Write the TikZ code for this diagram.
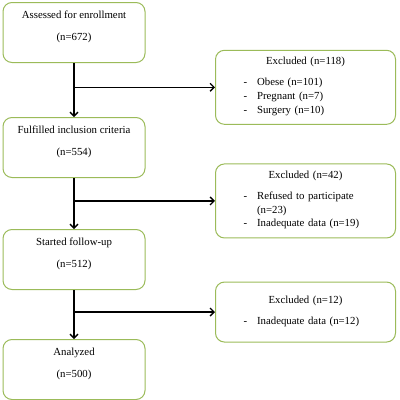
\documentclass[tikz,border=0pt]{standalone}
\usepackage{fontspec}
\setmainfont{Liberation Serif}
\usepackage{xcolor}
\usepackage{tikz}
\usetikzlibrary{arrows.meta, positioning, calc}
\definecolor{boxgreen}{RGB}{155,187,89}

\begin{document}
\begin{tikzpicture}[
    >={Straight Barb[length=4pt,width=8pt]},
    box_node/.style={
        rectangle,
        draw=boxgreen,
        line width=1pt,
        rounded corners=9pt,
        minimum width=142pt,
        minimum height=60pt,
        align=center,
        font=\fontsize{10.8pt}{13.8pt}\selectfont
    },
    excl_node/.style={
        rectangle,
        draw=boxgreen,
        line width=1pt,
        rounded corners=9pt,
        text width=170pt,
        inner xsep=5pt,
        inner ysep=7pt,
        minimum height=60pt,
        align=center,
        font=\fontsize{10.8pt}{13.8pt}\selectfont
    },
    arrow_main/.style={
        ->,
        line width=1.3pt,
        color=black
    }
]
    \useasboundingbox (0,0) rectangle (400pt,-400pt);

    % Main Flow Nodes
    \node (assess) [box_node] at (74pt,-32.5pt) {Assessed for enrollment\\[8pt](n=672)\\\mbox{}};
    \node (fulfil) [box_node, below=54pt of assess] {Fulfilled inclusion criteria\\[8pt](n=554)\\\mbox{}};
    \node (started) [box_node, below=51pt of fulfil] {Started follow-up\\[8pt](n=512)\\\mbox{}};
    \node (analyzed) [box_node, below=49pt of started] {Analyzed\\[8pt](n=500)\\\mbox{}};

    % Branch Points
    \coordinate (br1) at ($(assess.south)!0.45!(fulfil.north)$);
    \coordinate (br2) at ($(fulfil.south)!0.45!(started.north)$);
    \coordinate (br3) at ($(started.south)!0.45!(analyzed.north)$);

    % Exclusion Nodes
    \node (excl1) [excl_node, right=141pt of br1] {Excluded (n=118)\\[7pt]
        \hspace*{23pt}\begin{tabular}[t]{@{}l@{\hspace{10pt}}l@{}}
        - & Obese (n=101)\\
        - & Pregnant (n=7)\\
        - & Surgery (n=10)
        \end{tabular}\hfill\mbox{}};
    \node (excl2) [excl_node, right=141pt of br2] {Excluded (n=42)\\[7pt]
        \hspace*{23pt}\begin{tabular}[t]{@{}l@{\hspace{10pt}}l@{}}
        - & Refused to participate\\
          & (n=23)\\
        - & Inadequate data (n=19)
        \end{tabular}\hfill\mbox{}};
    \node (excl3) [excl_node, right=141pt of br3] {Excluded (n=12)\\[7pt]
        \hspace*{23pt}\begin{tabular}[t]{@{}l@{\hspace{10pt}}l@{}}
        - & Inadequate data (n=12)
        \end{tabular}\hfill\mbox{}};

    % Main Flow Connections
    \draw [arrow_main] (assess) -- (fulfil);
    \draw [arrow_main] (fulfil) -- (started);
    \draw [arrow_main] (started) -- (analyzed);

    % Exclusion Branches
    \draw [arrow_main] (br1) -- (excl1);
    \draw [arrow_main] (br2) -- (excl2);
    \draw [arrow_main] (br3) -- (excl3);

\end{tikzpicture}
\end{document}
